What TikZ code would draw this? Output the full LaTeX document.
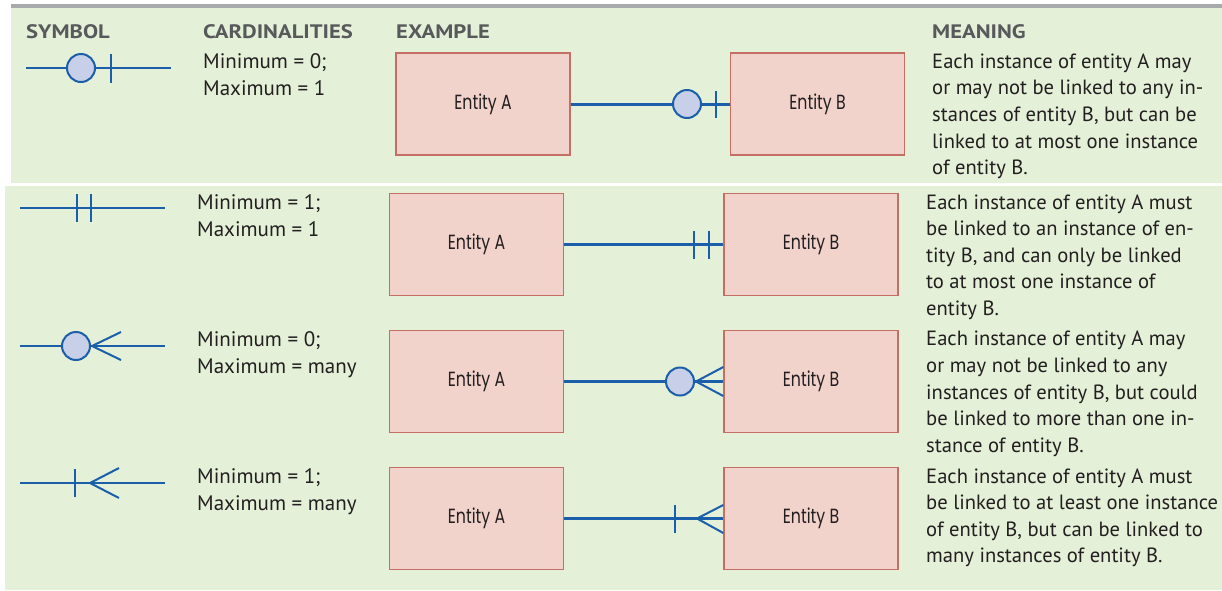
\documentclass[tikz,border=0pt]{standalone}
\usepackage{fontspec}
\setmainfont{PT Sans}
\newfontfamily\entfont{Poppins}
\definecolor{panel}{HTML}{E4F0D8}
\definecolor{topbar}{HTML}{A7A9AC}
\definecolor{hdrgray}{HTML}{58595B}
\definecolor{ink}{HTML}{231F20}
\definecolor{entfill}{HTML}{F2D3CB}
\definecolor{entline}{HTML}{C46E64}
\definecolor{relblue}{HTML}{1B5FAA}
\definecolor{ringfill}{HTML}{C8CFE8}
\newcommand{\hdrtext}[1]{\scalebox{1.16}[1]{#1}}
\newcommand{\enttext}[1]{\scalebox{0.77}[1]{#1}}
\tikzset{
  hdr/.style={anchor=base west, inner sep=0pt, text=hdrgray, font=\fontsize{19.5}{22}\selectfont\bfseries},
  txt/.style={anchor=base west, inner sep=0pt, text=ink, font=\fontsize{21}{26}\selectfont},
  mean/.style={txt, font=\fontsize{20.6}{26}\selectfont},
  entity/.style={draw=entline, fill=entfill, line width=1.4pt, minimum width=174pt, minimum height=102pt, inner sep=0pt, text=ink, font=\entfont\fontsize{20.5}{24}\selectfont},
  conn/.style={draw=relblue, line width=3pt},
  symline/.style={draw=relblue, line width=2pt},
  ring/.style={circle, draw=relblue, fill=ringfill, line width=2pt, minimum size=28pt, inner sep=0pt},
  bar/.style={draw=relblue, line width=2pt},
}
\begin{document}
\begin{tikzpicture}[x=1pt,y=-1pt]
\useasboundingbox (0,0) rectangle (1222,590);
% background panels
\fill[panel] (11,8) rectangle (1222,183);
\fill[topbar] (11,4) rectangle (1222,8);
\fill[panel] (5,186) rectangle (1222,590);

% column headings
\node[hdr] (hsym) at (26,38) {\hdrtext{SYMBOL}};
\node[hdr] (hcard) at (203,38) {\hdrtext{CARDINALITIES}};
\node[hdr] (hex) at (396,38) {\hdrtext{EXAMPLE}};
\node[hdr] (hmean) at (932,38) {\hdrtext{MEANING}};

% ---------- row 1: zero or one ----------
\draw[symline] (26,68) coordinate (s1a) -- (171,68) coordinate (s1b);
\node[ring] (s1ring) at (81,68) {};
\draw[bar] (111,54) -- (111,83);
\node[txt] (c1a) at (203,68) {Minimum = 0;};
\node[txt] (c1b) at (203,95) {Maximum = 1};
\node[entity] (a1) at (483,104) {\enttext{Entity A}};
\node[entity] (b1) at (817.5,104) {\enttext{Entity B}};
\draw[conn] (a1.east) -- (b1.west);
\node[ring] (r1) at (687,104) {};
\draw[bar] (716,91) -- (716,118);
\foreach \t [count=\i] in {{Each instance of entity A may},{or may not be linked to any in-},{stances of entity B, but can be},{linked to at most one instance},{of entity B.}}
  \node[mean] (m1-\i) at (932,{68+26.7*(\i-1)}) {\t};

% ---------- row 2: exactly one ----------
\draw[symline] (20,208) -- (165,208);
\draw[bar] (77,194) -- (77,222);
\draw[bar] (91,194) -- (91,222);
\node[txt] (c2a) at (197,209.5) {Minimum = 1;};
\node[txt] (c2b) at (197,236) {Maximum = 1};
\node[entity] (a2) at (476.5,244.5) {\enttext{Entity A}};
\node[entity] (b2) at (811,244.5) {\enttext{Entity B}};
\draw[conn] (a2.east) -- (b2.west);
\draw[bar] (694,231) -- (694,259);
\draw[bar] (709,231) -- (709,259);
\foreach \t [count=\i] in {{Each instance of entity A must},{be linked to an instance of en-},{tity B, and can only be linked},{to at most one instance of},{entity B.}}
  \node[mean] (m2-\i) at (926,{209.5+26.4*(\i-1)}) {\t};

% ---------- row 3: zero or many ----------
\draw[symline] (20,346) -- (165,346);
\node[ring] (s3ring) at (76,346) {};
\draw[bar] (121,332) -- (92,346) -- (121,360);
\node[txt] (c3a) at (197,346) {Minimum = 0;};
\node[txt] (c3b) at (197,373) {Maximum = many};
\node[entity] (a3) at (476.5,381.5) {\enttext{Entity A}};
\node[entity] (b3) at (811,381.5) {\enttext{Entity B}};
\draw[conn] (a3.east) -- (b3.west);
\node[ring] (r3) at (680,381.5) {};
\draw[bar] (b3.west |- 0,367) -- (696,381.5) -- (b3.west |- 0,396);
\foreach \t [count=\i] in {{Each instance of entity A may},{or may not be linked to any},{instances of entity B, but could},{be linked to more than one in-},{stance of entity B.}}
  \node[mean] (m3-\i) at (926,{345.7+26.65*(\i-1)}) {\t};

% ---------- row 4: one or many ----------
\draw[symline] (20,483) -- (165,483);
\draw[bar] (75,469) -- (75,497);
\draw[bar] (119,468) -- (90,483) -- (119,498);
\node[txt] (c4a) at (197,483.3) {Minimum = 1;};
\node[txt] (c4b) at (197,510) {Maximum = many};
\node[entity] (a4) at (476.5,518.5) {\enttext{Entity A}};
\node[entity] (b4) at (811,518.5) {\enttext{Entity B}};
\draw[conn] (a4.east) -- (b4.west);
\draw[bar] (675,505) -- (675,533);
\draw[bar] (b4.west |- 0,505) -- (697,518.5) -- (b4.west |- 0,533);
\foreach \t [count=\i] in {{Each instance of entity A must},{be linked to at least one instance},{of entity B, but can be linked to},{many instances of entity B.}}
  \node[mean] (m4-\i) at (926,{483.3+26.5*(\i-1)}) {\t};
\end{tikzpicture}
\end{document}
